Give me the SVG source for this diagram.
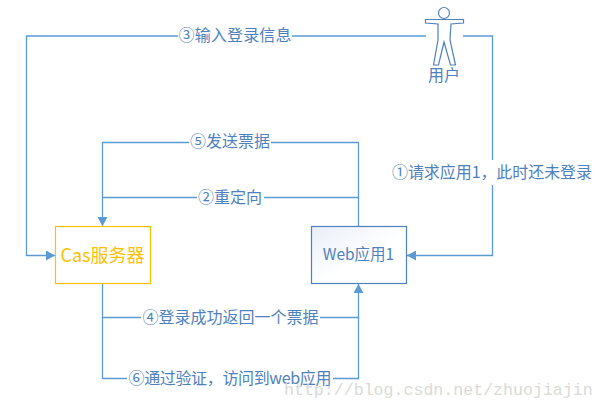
<svg xmlns="http://www.w3.org/2000/svg" width="605" height="409" viewBox="0 0 605 409">
<style>
text{font-family:"Noto Sans CJK SC","Liberation Sans",sans-serif;font-size:16px;fill:#4f81bd}
.l{text-anchor:middle}
.c{fill:none;stroke:#5b9bd5;stroke-width:1.3}
</style>
<defs>
<marker id="a" markerUnits="userSpaceOnUse" markerWidth="10" markerHeight="10" refX="9" refY="5" orient="auto"><path d="M0 0L9 5L0 10Z" fill="#5b9bd5"/></marker>
<linearGradient id="g" x1="0" y1="0" x2="1" y2="1"><stop offset="0" stop-color="#e9eef8"/><stop offset=".55" stop-color="#fff"/></linearGradient>
</defs>
<rect width="605" height="409" fill="#fff"/>
<g id="connectors">
<path class="c" d="M426 36H26.500V255.500H55" marker-end="url(#a)"/>
<path class="c" d="M463 36H492.500V255.500H407" marker-end="url(#a)"/>
<path class="c" d="M358.500 226V197.500H102.500V226" marker-end="url(#a)"/>
<path class="c" d="M358.500 197.500V142.500H102.500V197.500"/>
<path class="c" d="M102.500 284V317.500H358.500V284" marker-end="url(#a)"/>
<path class="c" d="M102.500 317.500V378.500H358.500V317.500"/>
</g>
<g id="labels">
<rect x="178" y="26" width="114" height="20" fill="#fff"/><text class="l" x="235" y="41" textLength="113" lengthAdjust="spacing">③输入登录信息</text>
<rect x="189" y="132" width="82" height="20" fill="#fff"/><text class="l" x="230" y="147" textLength="80" lengthAdjust="spacing">⑤发送票据</text>
<rect x="197" y="187" width="67" height="20" fill="#fff"/><text class="l" x="230" y="203" textLength="64" lengthAdjust="spacing">②重定向</text>
<rect x="390" y="160" width="203" height="25" fill="#fff"/><text class="l" x="492" y="178" textLength="200" lengthAdjust="spacing">①请求应用1，此时还未登录</text>
<rect x="141" y="307" width="179" height="20" fill="#fff"/><text class="l" x="230.500" y="323" textLength="176" lengthAdjust="spacing">④登录成功返回一个票据</text>
<rect x="127" y="368" width="206" height="20" fill="#fff"/><text class="l" x="230" y="384" textLength="203" lengthAdjust="spacing">⑥通过验证，访问到web应用</text>
</g>
<g id="cas"><rect x="55.500" y="226.500" width="95" height="57" fill="#fff" stroke="#ffc000" stroke-width="1.2"/><text class="l" x="102.500" y="262" style="fill:#ffc000;font-size:18px">Cas服务器</text></g>
<g id="web"><rect x="311.500" y="226.500" width="95" height="57" fill="url(#g)" stroke="#4f81bd" stroke-width="1.2"/><text class="l" x="358.500" y="260" style="font-size:15.500px">Web应用1</text></g>
<g id="user">
<circle cx="444" cy="13" r="5.500" fill="#fff" stroke="#4f81bd" stroke-width="1.2"/>
<path d="M425.500 19.500H463.500V23L451 24L450 40L455.500 65H450.500L444 42L438.500 65H433.500L438 40L438 24L425.500 23Z" fill="#fff" stroke="#4f81bd" stroke-width="1.2"/>
<text class="l" x="444" y="81">用户</text>
</g>
<text x="284" y="395" style="font-family:'Liberation Mono',monospace;font-size:16.600px;fill:#dadad6">http://blog.csdn.net/zhuojiajin</text>
</svg>
